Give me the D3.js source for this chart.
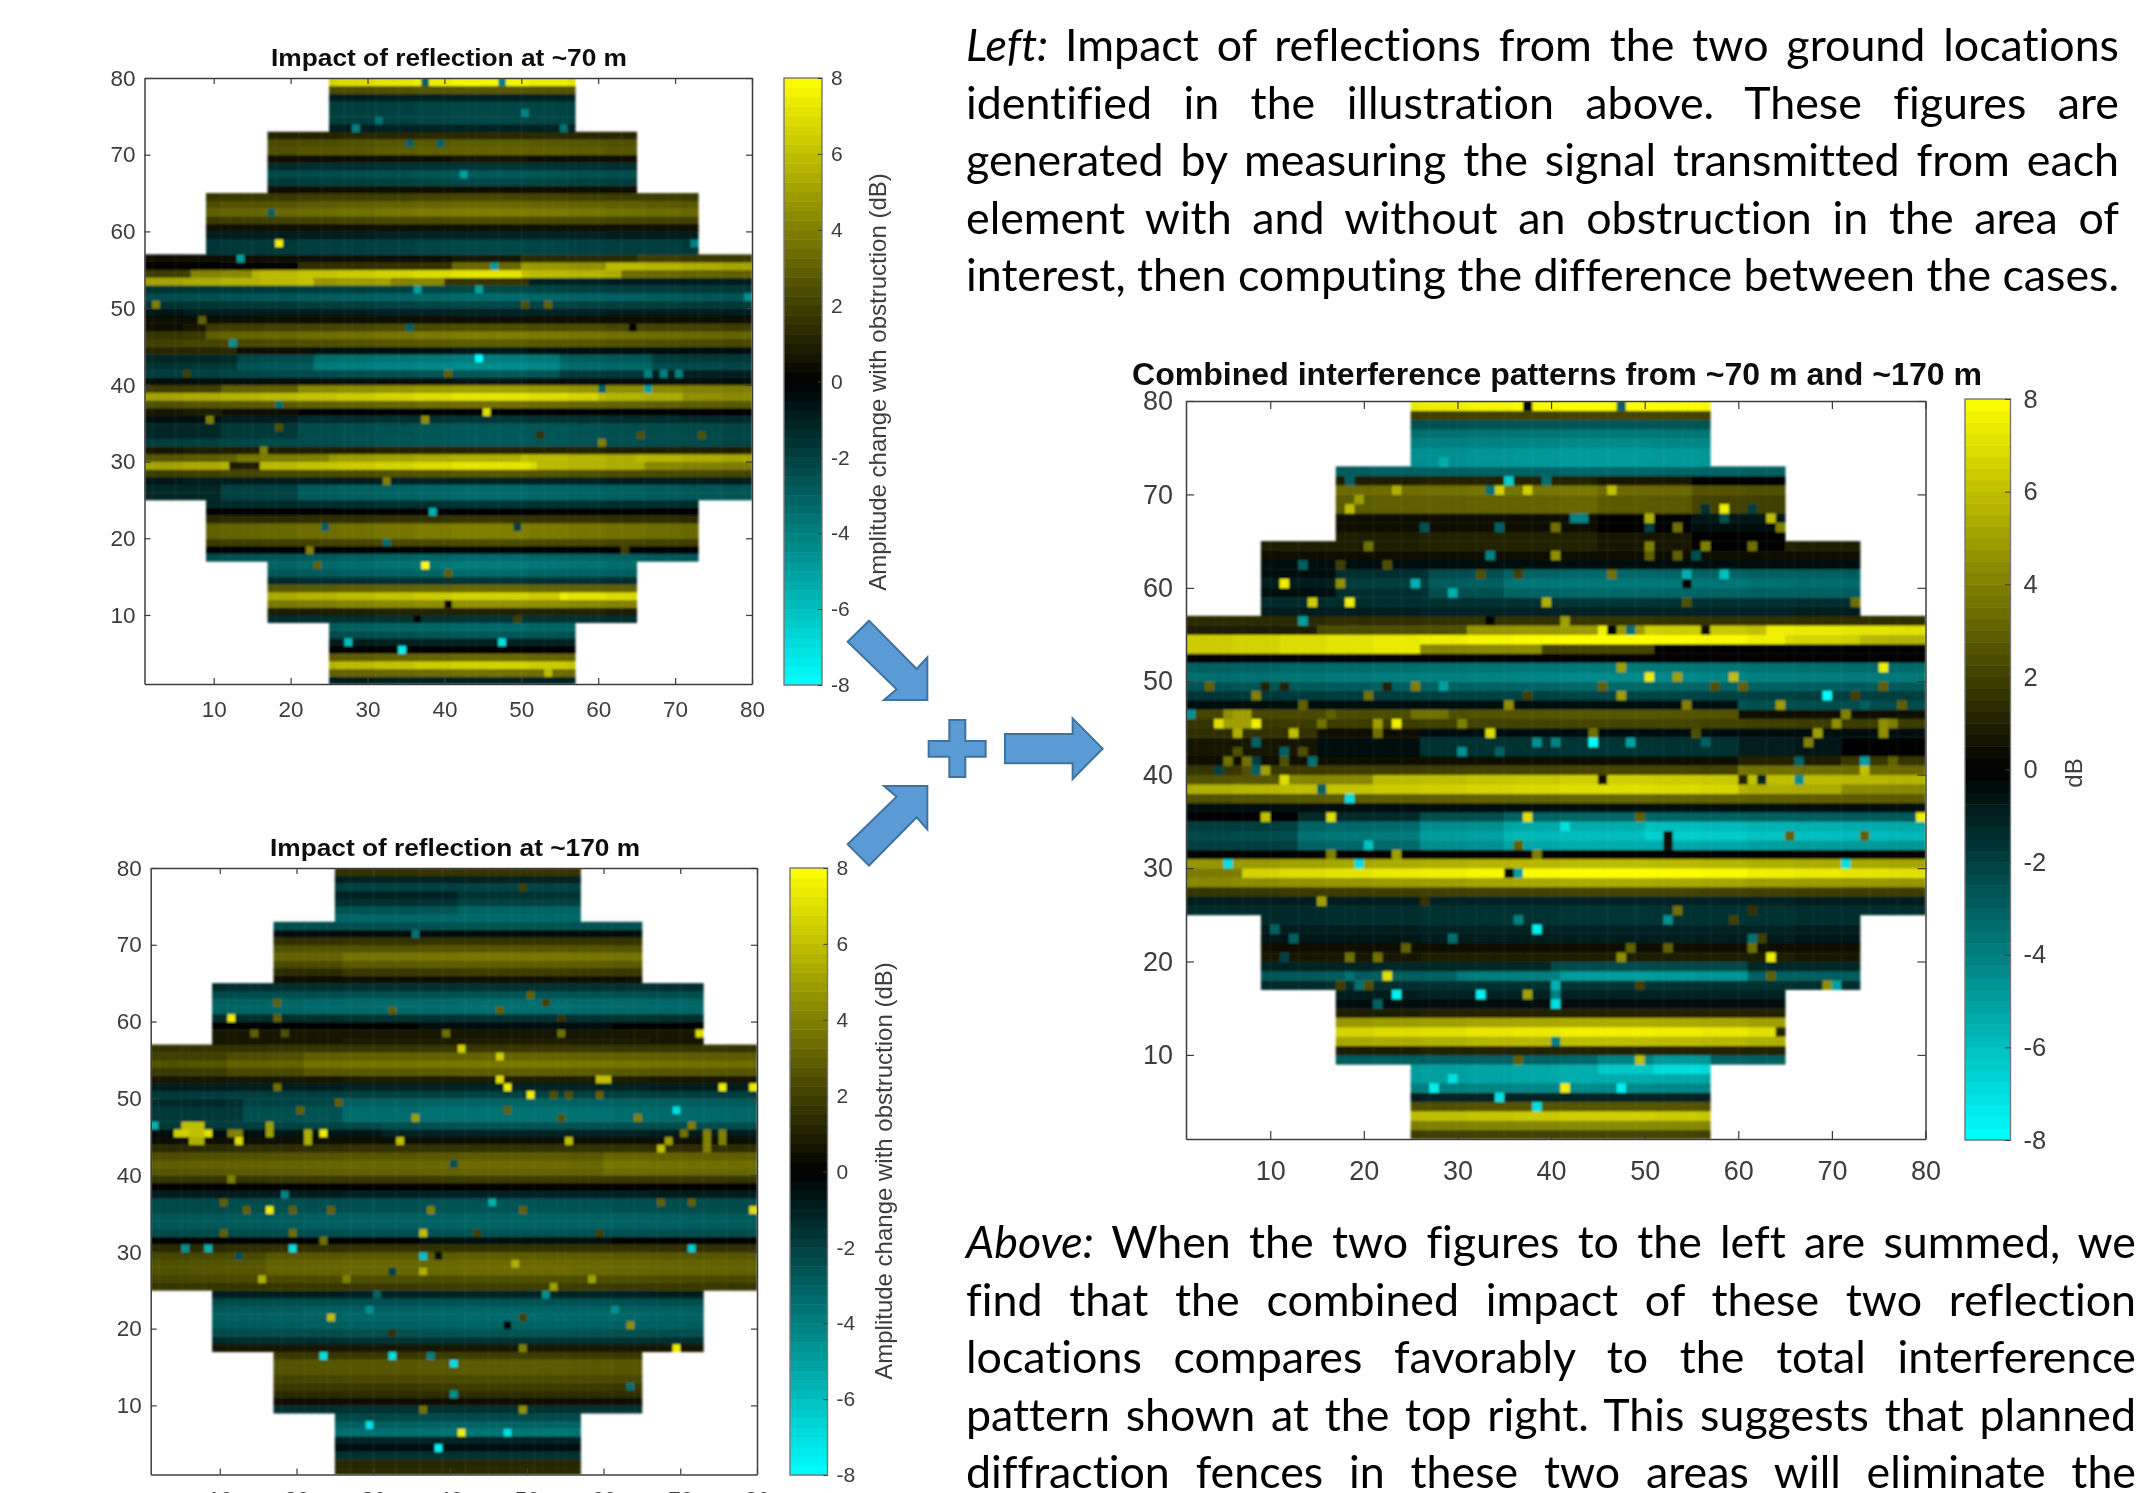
<!DOCTYPE html>
<html><head><meta charset="utf-8">
<script src="https://cdn.jsdelivr.net/npm/d3@7"></script>
<style>html,body{margin:0;padding:0;background:#fff;overflow:hidden}svg{display:block}</style>
</head><body>
<svg id="c" width="2142" height="1493"></svg>
<script>
// Row levels in dB, listed from the top row (79) down to the bottom row (1)
const rows70 = [7,2.5,-1,-2,-2,-2,-1,
 1.2,2.6,2.8,.5,-1.5,-2.5,-2,.4,
 2,3,3.6,2.2,.3,-1,-2,-2,
 .5,3,6.5,4,-2,-3,-2,-1,.3,2.2,3.6,2.6,-.5,-3.5,-4,-2.5,-.5,4.5,6.5,3.2,0,-1.5,-2.5,-2.5,-2.5,1,5,6.5,2.5,-1,-3,-3,
 -1.5,0,1.5,3.6,3.6,2.2,0,-3,
 -3.5,-3,-1.5,3,6,4.2,1,-1.5,
 -3,-2.5,-1,0,3,6,3.2,-1];
const rows170 = [1.6,-1,-2,-1.5,-2,-3,-3.2,
 -2.5,-.3,1.5,2.6,3.6,2.8,1.8,.5,
 -1.5,-2.5,-3.3,-3.3,-1.5,-.2,.7,.8,
 1.7,3,3.6,2.8,.8,-1,-2,-3,-3.4,-3.4,-2.5,-1,.3,1.5,2.7,3.2,3,1.8,0,-1,-2.5,-2.5,-3,-3,-2.5,-.2,1.5,2.8,3.2,3.2,2.4,1.8,
 -1,-2.5,-3,-3.2,-3,-2.5,-1.5,.7,
 1.8,2.7,2.7,2.2,1.8,1.4,.3,-1.5,
 -2.2,-3,-3.5,-1,-.5,-1.5,1.2,1.3];
const rowsCombined = [7.5,2,-2.5,-3.5,-4,-4.5,-4.5,
 -3,1,3.5,3,3,.3,.5,1,
 1,.3,-.5,-3,-3.5,-3,-1.5,-1,
 1.5,4.5,7.5,5,0,-3.5,-4,-3,-2,-.5,2.5,2,-.5,-1.5,-1.5,.3,2,6,6.5,3,-.3,-3,-5,-5.5,-5,0,5.5,7.5,5,2,-1,-1.5,
 -1.5,-1,-.8,.5,.8,-1.2,-3,-1.5,
 -1,-.5,1,5,7,5.5,1,-3,
 -5,-5,-4,-1,2.5,6,4,2];

// Strength of the bands across sixteen column blocks, left to right
const gain70 = [.78,.82,.86,.9,.94,.98,1.02,1.06,1.1,1.1,1.06,1.02,.98,.94,.9,.86];
const gain170 = [.9,.92,.94,.96,.98,1,1,1.02,1.04,1.04,1.04,1.02,1,.98,.96,.94];
const gainCombined = [.85,.88,.92,.95,.98,1,1.03,1.05,1.08,1.08,1.06,1.04,1,.98,.96,.94];

// Regional changes: row from, row to, column from, column to, dB added
const patches70 = [
 [56,56,50,64,.8],[56,56,65,79,1.5],
 [55,55,1,20,-3],[55,55,21,40,-1.5],[55,55,50,60,1.5],[55,55,61,79,3],
 [54,54,1,6,-4],[54,54,7,14,-1.5],[54,54,50,62,-1],[54,54,63,79,-3],
 [53,53,1,22,2.5],[53,53,23,32,1],[53,53,40,50,-2.5],[53,53,51,79,-5],
 [42,44,1,12,2],[42,44,13,22,1],[41,43,55,66,.7],[41,43,67,79,1.5],[46,47,1,8,-1.5],
 [38,38,60,70,-.8],[38,38,71,79,-1.5],[39,39,1,10,-2],[39,39,11,20,-1],
 [29,29,12,15,-5.5],[29,29,52,65,-1],[29,29,66,79,-2],[30,30,50,64,.5],[30,30,65,79,1],[30,30,1,12,-1.5],[30,30,13,24,-.7],
 [33,36,1,10,1],[33,36,11,20,.5],[25,26,1,10,1.5],[25,26,11,20,.7],[12,12,55,64,1]];
const patches170 = [
 [53,55,1,10,-.8],[53,55,11,20,-.4],[47,49,1,12,1.5],[47,49,13,25,.8],[45,46,1,15,.5],[45,46,16,30,.3],[40,42,60,79,.4],[27,29,1,15,-.4],[66,68,17,25,-.4],[74,76,25,40,.4]];
const patchesCombined = [
 [55,55,1,14,-3.5],[55,55,15,30,-2],[55,55,50,62,1.5],[55,55,63,79,3],[54,54,65,72,-.7],[54,54,73,79,-1.5],[53,53,1,25,2.5],[53,53,26,38,-.8],[53,53,39,50,-3],[53,53,51,79,-5],
 [32,35,1,12,2.8],[32,35,13,25,1.6],[32,35,26,34,.6],[33,34,50,79,-.6],[42,44,1,14,2.2],[42,44,15,25,1],[41,43,60,70,.7],[41,43,71,79,1.5],[59,61,9,16,2.5],[59,61,17,26,1.5],[59,61,27,34,.6],
 [64,71,45,54,-.4],[64,71,55,64,-1],
 [39,39,1,10,-3],[39,39,11,20,-1.5],[38,38,60,70,-1],[38,38,71,79,-2],[40,40,60,79,1.5],[46,47,60,79,-2],[8,9,45,50,-.8],[8,9,51,56,-1.5],[29,29,1,6,-3],[18,18,30,40,-.8],[18,18,41,60,-1.5],[19,19,40,60,-1]];

// Single cells standing out from their row: column, row, dB
const spots70 = [[37,79,-3],[47,79,-4],[18,58,7.5],[13,56,-5],[28,73,-4],[31,74,-3.5],[50,75,-4],[55,73,-3.5],[35,71,-3],[39,71,-3],[42,67,-5],[17,62,-3],[72,58,-4],[46,55,-5],[36,52,-5],[44,52,-5],[2,50,4],[79,51,-4.5],[50,50,2.5],[53,50,3],[8,48,3],[12,45,-4.5],[44,43,-8],[66,39,-5],[60,39,-3],[45,36,7],[37,35,4.5],[9,35,4],[18,37,-3.5],[18,34,2.5],[16,31,4],[60,32,4],[65,33,2.5],[73,33,2.5],[52,33,1.5],[32,27,4],[38,23,-5.5],[24,21,-3],[49,21,-2],[32,19,-3.5],[22,18,4],[23,16,3],[37,16,8],[40,15,3],[40,11,0],[63,18,2],[49,9,2],[36,9,0],[27,6,-6],[47,6,-7],[34,5,-7.5],[53,2,6],[66,41,-4],[68,41,-4],[70,41,-4],[40,41,3],[6,41,2],[64,47,0],[35,47,-3]];
const spots170 = [[1,46,-5.5],[5,46,6],[6,46,6],[7,46,6],[4,45,6.5],[5,45,6.5],[6,45,6],[7,45,6],[8,45,7],[6,44,5.5],[7,44,5.5],[12,44,7],[11,45,4],[12,45,4],[16,46,5],[16,45,5],[21,45,5.5],[21,44,5.5],[23,45,7.5],[33,44,6],[55,44,6],[67,43,6],[68,44,5],[71,46,4],[70,45,3.5],[73,45,4],[73,44,4],[73,43,4],[75,45,4],[75,44,4],[5,30,-4.5],[8,30,-5.5],[19,30,-7],[71,30,-6.5],[36,29,-6],[12,29,-2.5],[38,29,-.5],[16,35,7.5],[79,35,7],[19,35,3],[13,35,3],[24,35,3],[37,35,4],[49,35,3],[45,36,-5.5],[67,36,3],[71,36,3],[10,36,3],[10,32,3],[19,32,3.5],[36,32,6],[43,32,2],[59,32,2],[23,31,3.5],[18,37,-4],[15,26,5.5],[26,26,4],[36,27,5.5],[32,27,-2],[48,28,5.5],[53,25,5],[58,26,5],[52,24,-4.5],[30,24,-3],[24,21,6],[29,22,-4.5],[49,21,2],[61,22,-4.5],[63,20,4.5],[47,20,0],[32,19,1.5],[23,16,-7],[32,16,-7],[37,16,-4],[40,15,-7],[40,11,-4.5],[63,12,-3.5],[69,17,7.5],[49,17,4],[36,9,3.5],[49,9,4.5],[29,7,-7],[41,6,7.5],[47,6,-7],[38,4,-7.5],[11,60,7.5],[17,62,3],[17,60,3],[14,58,3],[18,58,2.5],[32,61,3],[46,61,3],[50,63,3],[52,62,2],[54,60,1.5],[39,58,3.5],[54,58,3.5],[72,58,7],[41,56,6.5],[46,55,6.5],[46,52,7],[47,51,7.5],[50,50,7.5],[59,52,6],[60,52,6],[75,51,7.5],[79,51,7.5],[69,48,-7],[35,47,5],[64,47,4],[17,51,3.5],[53,50,2.5],[55,50,2.5],[59,50,3],[25,49,3],[20,48,3],[47,48,3],[54,47,2.5],[40,41,-2.5],[35,71,-3.5],[49,77,2],[11,39,4]];
const spotsCombined = [[37,79,0],[47,79,-3],[28,73,-5.5],[11,60,7.5],[14,58,6.5],[18,58,7.5],[13,56,-5],[72,58,3.5],[39,58,5.5],[50,50,7.5],[53,50,5],[59,50,6],[75,51,7.5],[47,51,5],[79,35,7.5],[16,35,7],[9,35,6],[37,35,7],[49,35,3],[41,34,-7],[20,32,-6],[36,32,3],[52,33,.5],[52,32,.5],[65,33,3],[73,33,3],[5,30,-7],[19,30,-7],[71,30,-7],[36,29,-5],[35,29,0],[38,31,4],[23,31,5],[16,31,4],[18,37,-7],[15,38,-3],[73,41,-5],[66,39,-4],[34,5,-7],[38,4,-7],[55,8,-7],[49,9,6],[36,9,3],[29,7,-7],[27,6,-7.5],[41,6,7.5],[47,6,-7.5],[64,12,1],[40,11,-4],
 [35,71,-6.5],[39,71,-3.5],[18,71,-3],[33,70,-3.5],[23,70,5.5],[34,70,6.5],[37,70,6.5],[46,70,6],[19,69,5],[18,68,6],[58,68,7.5],[50,67,5.5],[63,67,6],[42,67,-4],[43,67,-4],[58,67,-2.5],[61,68,-2],[56,68,-1.5],[34,66,-3],[26,66,-2.5],[40,66,3.5],[53,66,3.5],[64,66,4],[50,66,-2],[20,64,3.5],[56,64,4],[50,64,4],[61,64,3.5],[33,63,-4],[40,63,4.5],[53,63,3],[55,63,-2.5],[50,63,3],[22,62,2.5],[17,62,2],[13,62,-3],[32,61,2.5],[36,61,2],[46,61,3.5],[54,61,-5.5],[58,61,-6],[17,60,4.5],[25,60,-5.5],[54,60,0],[29,59,-5.5],[54,58,2.5],[41,56,5],[33,56,0],[45,55,7.5],[46,55,0],[48,55,-3.5],[56,55,.5],
 [3,49,3],[9,49,1],[11,49,1],[25,49,4],[28,49,-5],[45,49,3],[57,49,2.5],[60,49,3],[75,49,3],[22,49,1],[8,48,4],[20,48,3.5],[47,48,5],[69,48,-8],[37,48,2],[72,48,2],[13,47,3],[35,47,4.5],[54,47,4],[64,47,5],[77,47,3],[73,47,-3],[1,46,-4.5],[5,46,4.5],[6,46,5],[7,46,5],[16,46,3],[25,46,3.5],[26,46,3.5],[27,46,3.5],[28,46,3.5],[71,46,4],[4,45,7],[8,45,7.5],[5,45,5],[6,45,5],[7,45,5],[21,45,5],[23,45,7.5],[15,45,3.5],[30,45,4],[70,45,4.5],[75,45,4.5],[76,45,4],[6,44,5.5],[12,44,6],[21,44,3.5],[33,44,7],[44,44,3.5],[68,44,5],[75,44,4.5],[55,44,2.5],[8,43,-3],[44,43,-8],[48,43,-5],[67,43,4],[38,43,-4.5],[40,43,-4],[56,43,-3],[6,42,2.5],[11,42,-3],[13,42,2.5],[30,42,-4.5],[34,42,-3],[5,41,3.5],[7,41,3.5],[8,41,-2],[11,41,2.5],[14,41,-3.5],[66,41,-3],[73,41,-5],[76,41,3],[9,40,5],[8,40,-3],[7,40,2.5],[4,40,-2],[73,40,6],[11,39,7],[45,39,.3],[60,39,1],[62,39,-1],[66,39,-4.5],
 [15,26,5],[26,26,1.5],[53,25,3.5],[61,25,1.5],[36,24,-4],[52,24,-4.5],[59,24,2],[38,23,-7.5],[10,23,-3],[62,22,2],[12,22,-3],[29,22,-3.5],[61,22,-3.5],[18,20,3.5],[21,20,3.5],[24,21,3],[47,20,4.5],[61,21,3.5],[63,20,7.5],[48,21,3],[52,21,3],[11,20,-2],[22,18,7],[63,18,3],[18,18,-3.5],[17,17,2],[20,17,2.5],[69,17,4.5],[70,17,-5],[19,17,-3.5],[49,17,2],[40,17,-5.5],[23,16,-7.5],[32,16,-7.5],[37,16,5],[40,16,-4],[40,15,-7],[21,15,-3]];

// Array outline: row from, row to, column from, column to
const aperture = [[1,8,25,56],[9,16,17,64],[17,24,9,72],[25,56,1,79],[57,64,9,72],[65,72,17,64],[73,79,25,56]];
const tickValues = [10,20,30,40,50,60,70,80];
const barTicks = [-8,-6,-4,-2,0,2,4,6,8];

const titleA = "Impact of reflection at ~70 m";
const titleB = "Impact of reflection at ~170 m";
const titleC = "Combined interference patterns from ~70 m and ~170 m";
const barLabelSide = "Amplitude change with obstruction (dB)";
const barLabelMain = "dB";

const paraTop = ["Left:|Impact of reflections from the two ground locations","identified in the illustration above. These figures are","generated by measuring the signal transmitted from each","element with and without an obstruction in the area of","interest, then computing the difference between the cases."];
const paraBottom = ["Above:|When the two figures to the left are summed, we","find that the combined impact of these two reflection","locations compares favorably to the total interference","pattern shown at the top right. This suggests that planned","diffraction fences in these two areas will eliminate the"];

const svg = d3.select("#c");
const defs = svg.append("defs");
defs.append("filter").attr("id","soft").attr("x","-2%").attr("y","-2%").attr("width","104%").attr("height","104%")
  .append("feGaussianBlur").attr("stdDeviation",0.9);
defs.append("filter").attr("id","softText").attr("x","-5%").attr("y","-5%").attr("width","110%").attr("height","110%")
  .append("feGaussianBlur").attr("stdDeviation",0.45);

const colour = d3.scaleLinear().domain([-8,0,8]).range(["#00ffff","#000000","#ffff00"]).clamp(true);
const ink = "#3c3c3c";

function cellsFor(rows, gain, patches, spots){
  const out = [];
  const spotMap = new Map(spots.map(s=>[s[0]+"_"+s[1],s[2]]));
  aperture.forEach(([r0,r1,c0,c1])=>{
    for(let r=r0;r<=r1;r++) for(let c=c0;c<=c1;c++){
      let v = rows[79-r];
      patches.forEach(p=>{ if(r>=p[0]&&r<=p[1]&&c>=p[2]&&c<=p[3]) v+=p[4]; });
      v *= gain[Math.min(15,Math.floor((c-1)/5))];
      const k = c+"_"+r;
      if(spotMap.has(k)) v = spotMap.get(k);
      out.push({c,r,v});
    }
  });
  return out;
}

function panel(o){
  const g = svg.append("g");
  const x = d3.scaleLinear().domain([1,80]).range([o.l,o.r]);
  const y = d3.scaleLinear().domain([1,80]).range([o.b,o.t]);
  const cid = "clip"+o.id;
  defs.append("clipPath").attr("id",cid).append("rect").attr("x",o.l).attr("y",o.t).attr("width",o.r-o.l).attr("height",o.b-o.t);
  g.append("g").attr("clip-path",`url(#${cid})`).append("g").attr("filter","url(#soft)")
    .selectAll("rect").data(cellsFor(o.rows,o.gain,o.patches,o.spots)).join("rect")
    .attr("x",d=>x(d.c)).attr("y",d=>y(d.r+1))
    .attr("width",d=>x(d.c+1)-x(d.c)+.4).attr("height",d=>y(d.r)-y(d.r+1)+.4)
    .attr("fill",d=>colour(d.v));

  const axes = g.append("g").attr("filter","url(#softText)");
  const styleAxis = s=>{
    s.select(".domain").attr("stroke",ink).attr("stroke-width",1.5);
    s.selectAll("line").attr("stroke",ink).attr("stroke-width",1.2);
    s.selectAll("text").attr("fill",ink).attr("font-family","Liberation Sans").attr("font-size",o.fs);
  };
  const tl = o.tickLen;
  axes.append("g").attr("transform",`translate(0,${o.b})`)
    .call(d3.axisBottom(x).tickValues(tickValues).tickSizeInner(-tl).tickSizeOuter(0).tickPadding(o.xPad)).call(styleAxis);
  axes.append("g").attr("transform",`translate(${o.l},0)`)
    .call(d3.axisLeft(y).tickValues(tickValues).tickSizeInner(-tl).tickSizeOuter(0).tickPadding(o.yPad)).call(styleAxis);
  axes.append("g").attr("transform",`translate(0,${o.t})`)
    .call(d3.axisTop(x).tickValues(tickValues).tickSizeInner(-tl).tickSizeOuter(0).tickFormat("")).call(styleAxis);
  axes.append("g").attr("transform",`translate(${o.r},0)`)
    .call(d3.axisRight(y).tickValues(tickValues).tickSizeInner(-tl).tickSizeOuter(0).tickFormat("")).call(styleAxis);

  svg.append("text").attr("x",(o.titleL+o.titleR)/2).attr("y",o.titleY).attr("text-anchor","middle")
    .attr("font-family","Liberation Sans").attr("font-weight","bold").attr("font-size",o.titleFs)
    .attr("textLength",o.titleR-o.titleL).attr("lengthAdjust","spacingAndGlyphs")
    .attr("fill","#111").attr("filter","url(#softText)").text(o.title);

  // colour bar
  const by = d3.scaleLinear().domain([-8,8]).range([o.bb,o.bt]);
  const levels = d3.range(64).map(i=>-8+i*16/64);
  const bar = g.append("g");
  bar.selectAll("rect").data(levels).join("rect")
    .attr("x",o.bl).attr("width",o.br-o.bl)
    .attr("y",d=>by(d+.25)).attr("height",d=>by(d)-by(d+.25)+.5)
    .attr("fill",d=>colour(d+.125));
  bar.append("rect").attr("x",o.bl).attr("y",o.bt).attr("width",o.br-o.bl).attr("height",o.bb-o.bt)
    .attr("fill","none").attr("stroke","#777").attr("stroke-width",1.4);
  const barAxis = g.append("g").attr("filter","url(#softText)").attr("transform",`translate(${o.br},0)`)
    .call(d3.axisRight(by).tickValues(barTicks).tickSizeInner(-tl*.7).tickSizeOuter(0).tickPadding(o.barPad).tickFormat(d=>d));
  barAxis.select(".domain").remove();
  barAxis.selectAll("line").attr("stroke",ink);
  barAxis.selectAll("text").attr("fill",ink).attr("font-family","Liberation Sans").attr("font-size",o.fs-1.5);

  svg.append("text").attr("transform",`translate(${o.labelX},${o.labelY}) rotate(-90)`)
    .attr("text-anchor","middle").attr("font-family","Liberation Sans").attr("font-size",o.labelFs)
    .attr("fill",ink).attr("filter","url(#softText)").text(o.label);
}

panel({id:"A",l:144.5,r:752,t:78,b:684,bl:784,br:822,bt:78,bb:685,rows:rows70,gain:gain70,patches:patches70,spots:spots70,
  fs:22.5,tickLen:6,xPad:17,yPad:9,barPad:9,title:titleA,titleL:271,titleR:627,titleY:66,titleFs:24.5,
  label:barLabelSide,labelX:886,labelY:382,labelFs:24});
panel({id:"B",l:150.7,r:757,t:868,b:1474.5,bl:790,br:827.5,bt:868,bb:1475,rows:rows170,gain:gain170,patches:patches170,spots:spots170,
  fs:22.5,tickLen:6,xPad:17,yPad:9,barPad:9,title:titleB,titleL:270,titleR:640,titleY:856,titleFs:24.5,
  label:barLabelSide,labelX:892,labelY:1171,labelFs:24});
panel({id:"C",l:1186,r:1925.5,t:401,b:1139,bl:1965,br:2010.5,bt:399,bb:1140,rows:rowsCombined,gain:gainCombined,patches:patchesCombined,spots:spotsCombined,
  fs:27,tickLen:8,xPad:22,yPad:13,barPad:13,title:titleC,titleL:1132,titleR:1982,titleY:385,titleFs:31,
  label:barLabelMain,labelX:2082,labelY:773,labelFs:24});

// connecting shapes between the figures
const shapes = [
 [[147,62],[290,207],[322,172],[322,300],[192,300],[230,268],[83,125]],
 [[83,733],[230,590],[192,558],[322,558],[322,688],[290,652],[147,797]],
 [[555,402],[758,402],[758,355],[848,446],[758,537],[758,490],[555,490]],
 [[388,360],[436,360],[436,423],[497,423],[497,470],[436,470],[436,531],[388,531],[388,470],[326,470],[326,423],[388,423]]
];
svg.append("g").attr("transform","translate(820,600) scale(0.3333)").selectAll("polygon").data(shapes).join("polygon")
  .attr("points",d=>d.map(p=>p.join(",")).join(" ")).attr("fill","#5b9bd5").attr("stroke","#41719c").attr("stroke-width",6);

// justified paragraphs
const family = "Lato";
const probe = svg.append("text").attr("font-family",family).attr("font-size",40).style("font-variant-ligatures","none").text(paraTop[4]);
const fontPx = 40*1154/probe.node().getComputedTextLength();
probe.remove();
function para(lines,x0,x1,y0,step){
  lines.forEach((ln,i)=>{
    const t = svg.append("text").attr("x",x0).attr("y",y0+i*step).attr("font-family",family).attr("font-size",fontPx).attr("fill","#000").style("font-variant-ligatures","none");
    const bits = ln.split("|");
    if(bits.length>1){
      t.append("tspan").attr("font-style","italic").text(bits[0]+" ");
      t.append("tspan").text(bits[1]);
    } else t.text(ln);
    const spaces = ln.replace("|"," ").split(" ").length-1;
    t.attr("word-spacing",(x1-x0-t.node().getComputedTextLength())/spaces);
  });
}
para(paraTop,966,2119,61,57.6);
para(paraBottom,966,2136,1258,57.6);
</script>
</body></html>
